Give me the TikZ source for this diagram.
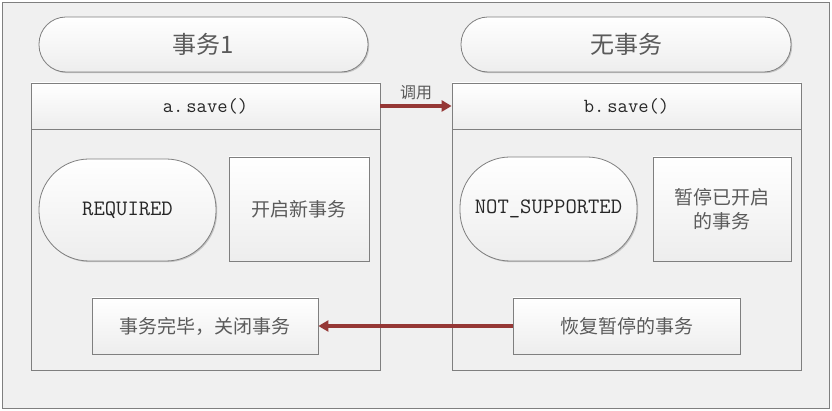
\documentclass[tikz,border=0pt]{standalone}
\usepackage{fontspec}
\newfontfamily\cjk{Noto Sans CJK SC}
\usetikzlibrary{arrows.meta,shadows}
\definecolor{bgc}{HTML}{F0F0F0}
\definecolor{linec}{HTML}{7F7F7F}
\definecolor{txt}{HTML}{262626}
\definecolor{cjktxt}{HTML}{5A5A5A}
\definecolor{arr}{HTML}{953735}
\tikzset{
  shadebox/.style={draw=linec, line width=0.8pt, top color=white, bottom color=black!7, text=txt, inner sep=0pt, align=center,
    drop shadow={shadow xshift=1.2pt, shadow yshift=-1.2pt, opacity=0.18, fill=black}},
  pill/.style={shadebox, rounded corners=#1},
  flowarrow/.style={draw=arr, line width=4pt, -{Triangle[length=10pt,width=11pt]}},
}
\begin{document}
\begin{tikzpicture}[x=1pt,y=-1pt]
\useasboundingbox (0,0) rectangle (832,411);
\node[draw=linec, line width=0.8pt, fill=bgc, minimum width=827pt, minimum height=406pt, inner sep=0pt] (frame) at (416,205.5) {};
% top pills
\node[pill=27pt, minimum width=329pt, minimum height=55pt, font=\cjk\fontsize{24}{28}\selectfont, text=cjktxt] (t1) at (203.5,44.5) {事务1};
\node[pill=27pt, minimum width=330pt, minimum height=55pt, font=\cjk\fontsize{24}{28}\selectfont, text=cjktxt] (t2) at (626,44.5) {无事务};
% containers
\node[draw=linec, line width=0.8pt, fill=bgc, minimum width=349pt, minimum height=241pt, inner sep=0pt,
  drop shadow={shadow xshift=1.2pt, shadow yshift=-1.2pt, opacity=0.18, fill=black}] (abody) at (205.5,249.5) {};
\node[shadebox, minimum width=349pt, minimum height=46pt, font=\ttfamily\fontsize{20}{22}\selectfont] (ahead) at (205.5,106) {a.\hspace{3pt}save()};
\node[draw=linec, line width=0.8pt, fill=bgc, minimum width=349pt, minimum height=241pt, inner sep=0pt,
  drop shadow={shadow xshift=1.2pt, shadow yshift=-1.2pt, opacity=0.18, fill=black}] (bbody) at (626.5,249.5) {};
\node[shadebox, minimum width=349pt, minimum height=46pt, font=\ttfamily\fontsize{20}{22}\selectfont] (bhead) at (626.5,106) {b.\hspace{3pt}save()};
% inner nodes
\node[pill=50pt, minimum width=177pt, minimum height=102pt, font=\ttfamily\fontsize{22}{24}\selectfont] (req) at (127.5,210) {REQUIRED};
\node[shadebox, minimum width=140pt, minimum height=104pt, font=\cjk\fontsize{19}{24}\selectfont, text=cjktxt] (newtx) at (299,209) {开启新事务};
\node[pill=50pt, minimum width=177pt, minimum height=104pt, font=\ttfamily\fontsize{22}{24}\selectfont] (ns) at (548.5,209) {NOT\_SUPPORTED};
\node[shadebox, minimum width=138pt, minimum height=104pt, font=\cjk\fontsize{19}{24}\selectfont, text=cjktxt] (susp) at (722,209) {暂停已开启\\的事务};
\node[shadebox, minimum width=226pt, minimum height=56pt, font=\cjk\fontsize{19}{24}\selectfont, text=cjktxt] (done) at (205,326) {事务完毕，关闭事务};
\node[shadebox, minimum width=227pt, minimum height=56pt, font=\cjk\fontsize{19}{24}\selectfont, text=cjktxt] (resume) at (626.5,326) {恢复暂停的事务};
% arrows
\draw[flowarrow] (ahead.east) -- node[above=1pt, text=cjktxt, font=\cjk\fontsize{16}{18}\selectfont] (calllbl) {调用} (bhead.west);
\draw[flowarrow] (resume.west) -- (done.east);
\end{tikzpicture}
\end{document}
